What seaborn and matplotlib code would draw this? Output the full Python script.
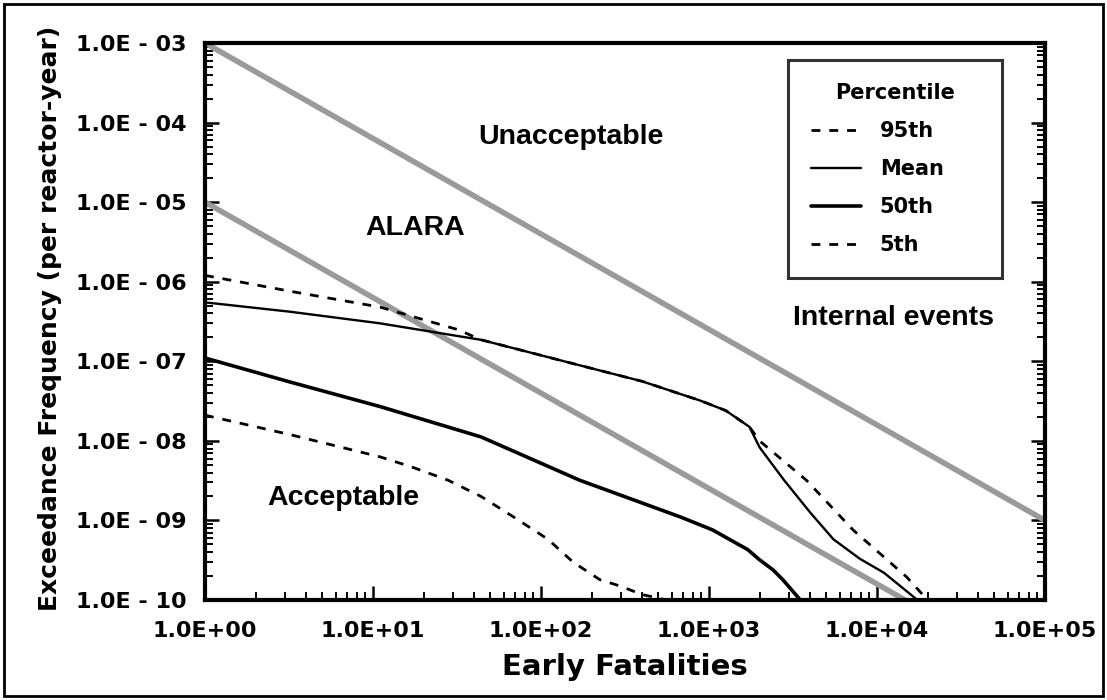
import matplotlib
matplotlib.use("Agg")
import matplotlib.pyplot as plt
import matplotlib.ticker as mticker
from matplotlib.patches import Rectangle
import seaborn as sns

# ---- data ----
mean_x = [1, 3.2, 11, 44, 170, 400, 890, 1260, 1740, 2000, 2800, 4000, 5500, 7900, 11000, 17400]
mean_y = [5.5e-7, 4.2e-7, 3.0e-7, 1.86e-7, 8.9e-8, 5.6e-8, 3.2e-8, 2.4e-8, 1.5e-8, 8.3e-9,
          3.2e-9, 1.26e-9, 5.8e-10, 3.3e-10, 2.2e-10, 1.0e-10]

p95_x = [1, 3.2, 11, 32, 44, 170, 400, 890, 1260, 1740, 2000, 3800, 7200, 15000, 20000]
p95_y = [1.2e-6, 7.6e-7, 4.8e-7, 2.5e-7, 1.86e-7, 8.9e-8, 5.6e-8, 3.2e-8, 2.4e-8, 1.5e-8,
         1.0e-8, 3.2e-9, 7.6e-10, 1.95e-10, 1.0e-10]

p50_x = [1, 3.2, 11, 44, 170, 680, 1050, 1700, 2000, 2400, 2750, 3500]
p50_y = [1.1e-7, 5.5e-8, 2.7e-8, 1.12e-8, 3.2e-9, 1.1e-9, 7.6e-10, 4.3e-10, 3.2e-10,
         2.4e-10, 1.8e-10, 1.0e-10]

p05_x = [1, 3.2, 11, 17, 28, 44, 68, 110, 155, 224, 295, 400, 560]
p05_y = [2.1e-8, 1.2e-8, 6.3e-9, 4.7e-9, 3.2e-9, 2.0e-9, 1.12e-9, 5.8e-10, 3.0e-10,
         1.8e-10, 1.5e-10, 1.17e-10, 1.0e-10]

upper_x = [1, 1e5]
upper_y = [1e-3, 1e-9]
lower_x = [1, 14700]
lower_y = [1e-5, 1e-10]

xticks = [1e0, 1e1, 1e2, 1e3, 1e4, 1e5]
xticklabels = ["1.0E+00", "1.0E+01", "1.0E+02", "1.0E+03", "1.0E+04", "1.0E+05"]
yticks = [1e-3, 1e-4, 1e-5, 1e-6, 1e-7, 1e-8, 1e-9, 1e-10]
yticklabels = ["1.0E - 03", "1.0E - 04", "1.0E - 05", "1.0E - 06",
               "1.0E - 07", "1.0E - 08", "1.0E - 09", "1.0E - 10"]

region_labels = ["Unacceptable", "ALARA", "Internal events", "Acceptable"]
region_x = [150, 17.8, 12500, 6.7]
region_y = [6.5e-5, 4.8e-6, 3.5e-7, 1.9e-9]

# ---- figure ----
sns.set_style("white")
plt.rcParams['font.family'] = ['DejaVu Sans']
plt.rcParams['text.color'] = 'black'
plt.rcParams['axes.labelcolor'] = 'black'
plt.rcParams['xtick.color'] = 'black'
plt.rcParams['ytick.color'] = 'black'

fig = plt.figure(figsize=(11.07, 7.0), dpi=100)
ax = fig.add_axes([205/1107, 1-600/700, 840/1107, 557/700])
ax.set_xscale("log")
ax.set_yscale("log")

gray = "#9a9a9a"
sns.lineplot(x=upper_x, y=upper_y, ax=ax, color=gray, lw=4.0, sort=False, estimator=None)
sns.lineplot(x=lower_x, y=lower_y, ax=ax, color=gray, lw=4.0, sort=False, estimator=None)

dash = (0, (3.2, 3.2))
sns.lineplot(x=mean_x, y=mean_y, ax=ax, color="black", lw=1.7, sort=False, estimator=None, label="Mean")
sns.lineplot(x=p95_x, y=p95_y, ax=ax, color="black", lw=2.0, linestyle=dash, sort=False, estimator=None, label="95th")
sns.lineplot(x=p50_x, y=p50_y, ax=ax, color="black", lw=2.6, sort=False, estimator=None, label="50th")
sns.lineplot(x=p05_x, y=p05_y, ax=ax, color="black", lw=2.0, linestyle=dash, sort=False, estimator=None, label="5th")

ax.set_xlim(1, 1e5)
ax.set_ylim(1e-10, 1e-3)

for lab, xx, yy in zip(region_labels, region_x, region_y):
    ax.text(xx, yy, lab, ha="center", va="center", fontsize=20.5, fontweight="bold",
            color="black", family=["Liberation Sans", "DejaVu Sans"])

# ticks
ax.set_xticks(xticks)
ax.set_xticklabels(xticklabels)
ax.set_yticks(yticks)
ax.set_yticklabels(yticklabels)
ax.xaxis.set_minor_locator(mticker.LogLocator(base=10, subs=range(2, 10), numticks=20))
ax.yaxis.set_minor_locator(mticker.LogLocator(base=10, subs=range(2, 10), numticks=20))
ax.xaxis.set_minor_formatter(mticker.NullFormatter())
ax.yaxis.set_minor_formatter(mticker.NullFormatter())
ax.tick_params(axis="both", which="both", direction="in", left=True, bottom=True, right=True, top=False,
               color="black")
ax.tick_params(axis="both", which="major", length=10, width=1.8)
ax.tick_params(axis="both", which="minor", length=6, width=1.4)
ax.tick_params(axis="y", which="major", labelsize=16, pad=13)
ax.tick_params(axis="x", which="major", labelsize=16, pad=15)
for t in ax.get_xticklabels() + ax.get_yticklabels():
    t.set_fontweight("bold")

for s in ax.spines.values():
    s.set_linewidth(3.0)
    s.set_color("black")

ax.set_xlabel("Early Fatalities", fontsize=21, fontweight="bold")
ax.xaxis.set_label_coords(0.5, -0.095)
ax.set_ylabel("Exceedance Frequency (per reactor-year)", fontsize=18, fontweight="bold")
ax.yaxis.set_label_coords(-0.17, 0.505)

# legend
handles, labels = ax.get_legend_handles_labels()
order = ["95th", "Mean", "50th", "5th"]
hmap = dict(zip(labels, handles))
leg = ax.legend([hmap[k] for k in order], order, title="Percentile", loc="upper left",
                bbox_to_anchor=(0.694, 0.583, 0.255, 0.3865), mode="expand", frameon=True,
                fancybox=False, fontsize=15, title_fontsize=15, handlelength=2.4,
                labelspacing=0.87, borderpad=1.1, handletextpad=0.9, borderaxespad=0)
leg.get_frame().set_edgecolor("black")
leg.get_frame().set_linewidth(2.2)
for t in leg.get_texts():
    t.set_fontweight("bold")
leg.get_title().set_fontweight("bold")

# outer border
fig.patches.append(Rectangle((0.004, 0.006), 0.992, 0.988, transform=fig.transFigure,
                             fill=False, edgecolor="black", lw=2.0))

fig.savefig("out.png", dpi=100)
